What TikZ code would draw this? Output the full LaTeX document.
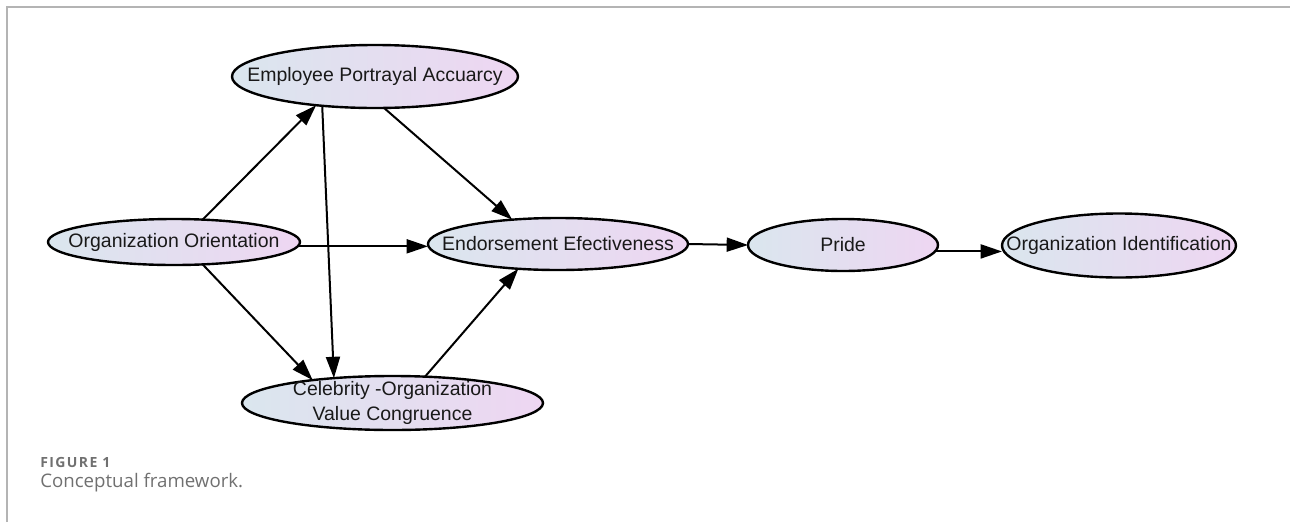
\documentclass[tikz,border=0pt]{standalone}
\usepackage{fontspec}
\newfontfamily\nodefont{Liberation Sans}
\newfontfamily\capfont{Open Sans}
\newfontfamily\capfontwide[LetterSpace=10]{Open Sans}
\usetikzlibrary{shapes.geometric,arrows.meta}
\definecolor{constructleft}{RGB}{218,230,238}
\definecolor{constructright}{RGB}{238,214,242}
\definecolor{framegray}{RGB}{180,180,180}
\definecolor{captiongray}{RGB}{112,112,112}

\begin{document}
\begin{tikzpicture}[x=0.75pt,y=0.75pt,yscale=-1,xscale=1,
    construct/.style={ellipse, draw, line width=1.8pt, left color=constructleft, right color=constructright, inner sep=0pt, outer sep=0pt},
    constructtext/.style={font=\nodefont\fontsize{14.6}{18.5}\selectfont, text=black!90, align=center, inner sep=0pt},
    link/.style={line width=1.5pt, -{Triangle[length=16pt,width=10.5pt]}}]
            \useasboundingbox (0,0) rectangle (1290,522);

            %Straight Lines [frame]
            \draw [color=framegray, line width=1.5pt] (7,522) -- (7,7) -- (1290,7) ;

            %Shape: Ellipse [oo]
            \node[construct, minimum width=189pt, minimum height=34.5pt] (oo) at (174,242) {};
            %Shape: Ellipse [epa]
            \node[construct, minimum width=214.5pt, minimum height=47.25pt] (epa) at (375,76.5) {};
            %Shape: Ellipse [cvc]
            \node[construct, minimum width=225.75pt, minimum height=40.5pt] (cvc) at (392.5,403) {};
            %Shape: Ellipse [ee]
            \node[construct, minimum width=195pt, minimum height=39pt] (ee) at (558,244) {};
            %Shape: Ellipse [pride]
            \node[construct, minimum width=142.5pt, minimum height=39pt] (pride) at (843,245) {};
            %Shape: Ellipse [oi]
            \node[construct, minimum width=175.5pt, minimum height=48pt] (oi) at (1119,245.5) {};

            % Text Node
            \node[constructtext] (oo-text) at (oo) {Organization Orientation};
            % Text Node
            \node[constructtext] (epa-text) at (epa) {Employee Portrayal Accuarcy};
            % Text Node
            \node[constructtext] (cvc-text) at (cvc) {Celebrity -Organization\\Value Congruence};
            % Text Node
            \node[constructtext] (ee-text) at (ee) {Endorsement Efectiveness};
            % Text Node
            \node[constructtext] (pride-text) at (pride) {Pride};
            % Text Node
            \node[constructtext] (oi-text) at (oi) {Organization Identification};

            %Straight Lines
            \draw [link] (oo.38) -- (epa.206) ;
            %Straight Lines
            \draw [link] (oo.322) -- (cvc.164) ;
            %Straight Lines
            \draw [link] (oo.-2) -- (ee.west |- oo.-2) ;
            %Straight Lines
            \draw [link] (epa.286) -- (ee.152) ;
            %Straight Lines
            \draw [link] (epa.209) -- (cvc.157) ;
            %Straight Lines
            \draw [link] (cvc.39) -- (ee.212) ;
            %Straight Lines
            \draw [link] (ee.east) -- (pride.west) ;
            %Straight Lines
            \draw [link] (pride.-4) -- (oi.west |- pride.-4) ;

            % Text Node
            \node[font=\capfontwide\bfseries\fontsize{10.5}{12}\selectfont, text=captiongray, anchor=base west, inner sep=0pt] (fig-label) at (40,467) {FIGURE 1};
            % Text Node
            \node[font=\capfont\fontsize{14}{17}\selectfont, text=captiongray, anchor=base west, inner sep=0pt] (fig-caption) at (40,487) {Conceptual framework.};

        \end{tikzpicture}
\end{document}
